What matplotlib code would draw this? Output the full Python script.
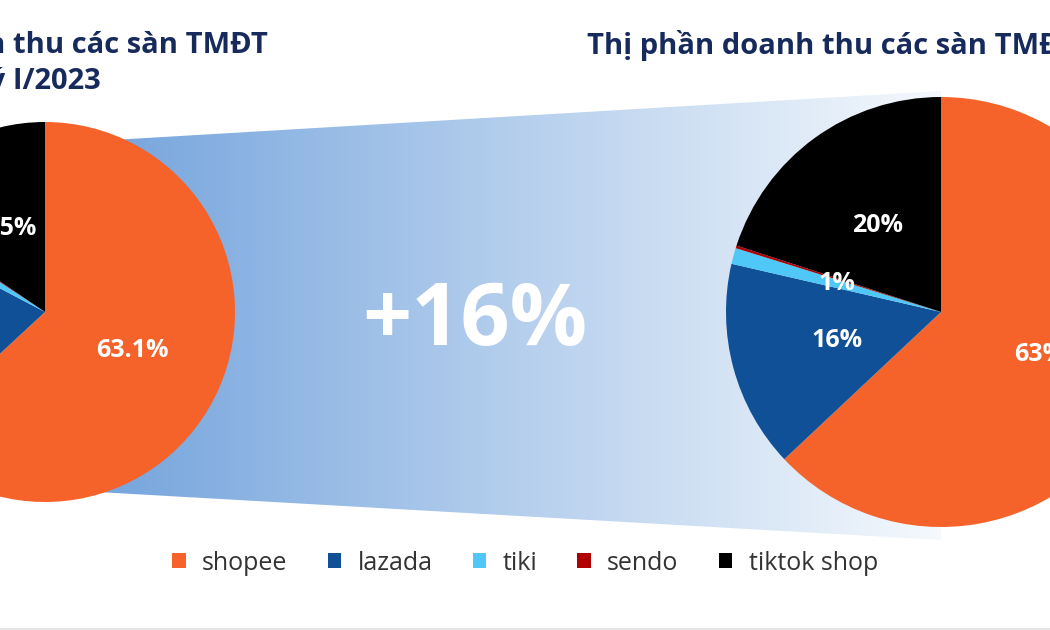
import matplotlib.pyplot as plt
import numpy as np
from matplotlib.patches import Polygon, Patch

platforms = ['shopee', 'lazada', 'tiki', 'sendo', 'tiktok shop']
colors = ['#f5622a', '#0f5096', '#4fc8f7', '#b00000', '#000000']

# Q1/2023 (left pie)
share_q1 = [63.1, 19.6, 1.6, 0.2, 15.5]
labels_q1 = ['63.1%', '19.6%', '1.6%', '', '15.5%']

# later quarter (right pie)
share_q2 = [63.0, 15.6, 1.2, 0.2, 20.0]
labels_q2 = ['63%', '16%', '1%', '', '20%']

growth = '+16%'
title_left = ['Thị phần doanh thu các sàn TMĐT', 'quý I/2023']
title_right = 'Thị phần doanh thu các sàn TMĐT quý II/2023'

W, H = 1050, 630
FONT = 'Open Sans'
NAVY = '#172a5c'

fig = plt.figure(figsize=(W / 100, H / 100), dpi=100)
ax = fig.add_axes([0, 0, 1, 1])

# gradient band between the two pies
c0 = np.array([109, 159, 219]) / 255
c1 = np.array([245, 249, 253]) / 255
t = np.linspace(0, 1, 256)[:, None]
grad = (c0 + (c1 - c0) * t)[None, :, :]
im = ax.imshow(grad, extent=(45, 941, H - 540, H - 91), aspect='auto', zorder=0)
band = Polygon([(45, H - 144), (941, H - 91), (941, H - 540), (45, H - 489)],
               closed=True, facecolor='none', edgecolor='none', transform=ax.transData)
ax.add_patch(band)
im.set_clip_path(band)


def draw_pie(values, labels, center, radius):
    wedges, _ = ax.pie(values, colors=colors, startangle=90, counterclock=False,
                       center=center, radius=radius, frame=True,
                       wedgeprops=dict(linewidth=0))
    for w in wedges:
        w.set_zorder(2)
    for w, lab in zip(wedges, labels):
        if not lab:
            continue
        ang = np.deg2rad((w.theta1 + w.theta2) / 2)
        x = w.center[0] + 0.5 * w.r * np.cos(ang)
        y = w.center[1] + 0.5 * w.r * np.sin(ang)
        ax.text(x, y, lab, ha='center', va='center', color='white',
                fontsize=18, fontweight='bold', family=FONT, zorder=3)
    return wedges


draw_pie(share_q1, labels_q1, (45, H - 312), 190)
draw_pie(share_q2, labels_q2, (941, H - 312), 215)

ax.text(475, H - 345, growth, ha='center', va='baseline', color='white',
        fontsize=62, fontweight='bold', family=FONT, zorder=3)

# titles
ax.text(268, H - 53, title_left[0], ha='right', va='baseline', color=NAVY,
        fontsize=21, fontweight='bold', family=FONT)
ax.text(101, H - 89, title_left[1], ha='right', va='baseline', color=NAVY,
        fontsize=21, fontweight='bold', family=FONT)
ax.text(587, H - 54, title_right, ha='left', va='baseline', color=NAVY,
        fontsize=21, fontweight='bold', family=FONT)

ax.axhline(1, color='#e4e4e4', linewidth=1.5)

ax.set_xlim(0, W)
ax.set_ylim(0, H)
ax.set_axis_off()

handles = [Patch(facecolor=c, edgecolor='none') for c in colors]
fig.legend(handles, platforms, loc='center', bbox_to_anchor=(0.5, 1 - 563 / H),
           ncol=5, frameon=False, prop=dict(family=FONT, size=18),
           labelcolor='#333333', handlelength=0.55, handleheight=0.55,
           handletextpad=0.65, columnspacing=1.6)

fig.savefig('out.png', dpi=100)
